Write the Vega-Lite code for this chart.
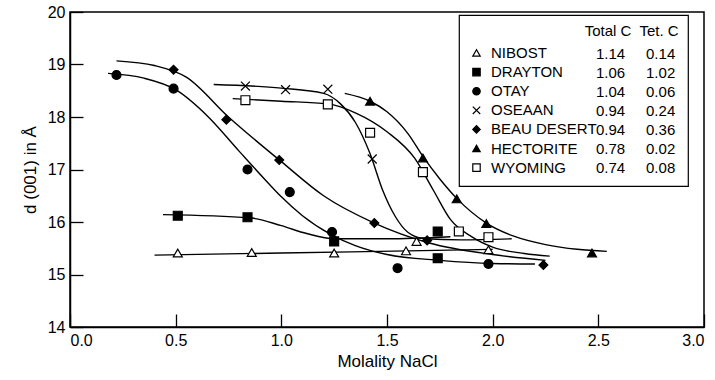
{
  "$schema": "https://vega.github.io/schema/vega-lite/v6.json",
  "autosize": {"type": "none"},
  "padding": {"left": 70, "top": 12, "right": 11, "bottom": 53},
  "width": 634,
  "height": 315,
  "background": "white",
  "config": {
    "font": "Liberation Sans, Arial, sans-serif",
    "view": {"stroke": "black", "strokeWidth": 1.5},
    "axis": {
      "grid": false,
      "domainColor": "black",
      "domainWidth": 1.5,
      "tickColor": "black",
      "tickWidth": 1.3,
      "tickSize": -13,
      "labelColor": "black",
      "labelFontSize": 16,
      "labelPadding": 18,
      "titleColor": "black",
      "titleFontSize": 17,
      "titleFontWeight": "normal"
    },
    "legend": {
      "labelColor": "black",
      "titleColor": "black",
      "strokeWidth": 1.2,
      "symbolStrokeWidth": 1.2
    }
  },
  "datasets": {
    "points": [
      {"series": "NIBOST", "m": 0.51, "d": 15.41},
      {"series": "NIBOST", "m": 0.86, "d": 15.42},
      {"series": "NIBOST", "m": 1.25, "d": 15.41},
      {"series": "NIBOST", "m": 1.59, "d": 15.45},
      {"series": "NIBOST", "m": 1.64, "d": 15.63},
      {"series": "NIBOST", "m": 1.98, "d": 15.47},
      {"series": "DRAYTON", "m": 0.51, "d": 16.12},
      {"series": "DRAYTON", "m": 0.84, "d": 16.09},
      {"series": "DRAYTON", "m": 1.25, "d": 15.63},
      {"series": "DRAYTON", "m": 1.74, "d": 15.82},
      {"series": "DRAYTON", "m": 1.74, "d": 15.31},
      {"series": "OTAY", "m": 0.22, "d": 18.8},
      {"series": "OTAY", "m": 0.49, "d": 18.54},
      {"series": "OTAY", "m": 0.84, "d": 17.0},
      {"series": "OTAY", "m": 1.04, "d": 16.57},
      {"series": "OTAY", "m": 1.24, "d": 15.81},
      {"series": "OTAY", "m": 1.55, "d": 15.12},
      {"series": "OTAY", "m": 1.98, "d": 15.2},
      {"series": "OSEAAN", "m": 0.83, "d": 18.59},
      {"series": "OSEAAN", "m": 1.02, "d": 18.52},
      {"series": "OSEAAN", "m": 1.22, "d": 18.53},
      {"series": "OSEAAN", "m": 1.43, "d": 17.2},
      {"series": "OSEAAN", "m": 1.98, "d": 15.71},
      {"series": "BEAU DESERT", "m": 0.49, "d": 18.9},
      {"series": "BEAU DESERT", "m": 0.74, "d": 17.95},
      {"series": "BEAU DESERT", "m": 0.99, "d": 17.18},
      {"series": "BEAU DESERT", "m": 1.44, "d": 15.98},
      {"series": "BEAU DESERT", "m": 1.69, "d": 15.65},
      {"series": "BEAU DESERT", "m": 2.24, "d": 15.18},
      {"series": "HECTORITE", "m": 1.42, "d": 18.3},
      {"series": "HECTORITE", "m": 1.67, "d": 17.22},
      {"series": "HECTORITE", "m": 1.83, "d": 16.44},
      {"series": "HECTORITE", "m": 1.97, "d": 15.97},
      {"series": "HECTORITE", "m": 2.47, "d": 15.41},
      {"series": "WYOMING", "m": 0.83, "d": 18.32},
      {"series": "WYOMING", "m": 1.22, "d": 18.24},
      {"series": "WYOMING", "m": 1.42, "d": 17.7},
      {"series": "WYOMING", "m": 1.67, "d": 16.95},
      {"series": "WYOMING", "m": 1.84, "d": 15.82},
      {"series": "WYOMING", "m": 1.98, "d": 15.71}
    ],
    "curves": [
      {"series": "NIBOST", "m": 0.40, "d": 15.37},
      {"series": "NIBOST", "m": 1.0, "d": 15.41},
      {"series": "NIBOST", "m": 1.6, "d": 15.45},
      {"series": "NIBOST", "m": 2.0, "d": 15.48},
      {"series": "DRAYTON", "m": 0.44, "d": 16.14},
      {"series": "DRAYTON", "m": 0.85, "d": 16.08},
      {"series": "DRAYTON", "m": 1.0, "d": 15.93},
      {"series": "DRAYTON", "m": 1.12, "d": 15.78},
      {"series": "DRAYTON", "m": 1.25, "d": 15.68},
      {"series": "DRAYTON", "m": 1.5, "d": 15.68},
      {"series": "DRAYTON", "m": 1.8, "d": 15.72},
      {"series": "OTAY", "m": 0.18, "d": 18.83},
      {"series": "OTAY", "m": 0.35, "d": 18.74},
      {"series": "OTAY", "m": 0.5, "d": 18.52},
      {"series": "OTAY", "m": 0.65, "d": 18.02},
      {"series": "OTAY", "m": 0.8, "d": 17.35},
      {"series": "OTAY", "m": 0.92, "d": 16.82},
      {"series": "OTAY", "m": 1.0, "d": 16.48},
      {"series": "OTAY", "m": 1.1, "d": 16.12},
      {"series": "OTAY", "m": 1.24, "d": 15.75},
      {"series": "OTAY", "m": 1.35, "d": 15.55},
      {"series": "OTAY", "m": 1.5, "d": 15.38},
      {"series": "OTAY", "m": 1.75, "d": 15.27},
      {"series": "OTAY", "m": 2.0, "d": 15.21},
      {"series": "OTAY", "m": 2.2, "d": 15.2},
      {"series": "OSEAAN", "m": 0.68, "d": 18.62},
      {"series": "OSEAAN", "m": 1.0, "d": 18.55},
      {"series": "OSEAAN", "m": 1.2, "d": 18.45},
      {"series": "OSEAAN", "m": 1.28, "d": 18.25},
      {"series": "OSEAAN", "m": 1.35, "d": 17.9},
      {"series": "OSEAAN", "m": 1.42, "d": 17.3},
      {"series": "OSEAAN", "m": 1.48, "d": 16.6},
      {"series": "OSEAAN", "m": 1.54, "d": 16.1},
      {"series": "OSEAAN", "m": 1.6, "d": 15.8},
      {"series": "OSEAAN", "m": 1.68, "d": 15.68},
      {"series": "OSEAAN", "m": 1.85, "d": 15.66},
      {"series": "OSEAAN", "m": 2.09, "d": 15.68},
      {"series": "BEAU DESERT", "m": 0.22, "d": 19.07},
      {"series": "BEAU DESERT", "m": 0.4, "d": 18.98},
      {"series": "BEAU DESERT", "m": 0.55, "d": 18.76},
      {"series": "BEAU DESERT", "m": 0.75, "d": 18.0},
      {"series": "BEAU DESERT", "m": 1.0, "d": 17.15},
      {"series": "BEAU DESERT", "m": 1.2, "d": 16.5},
      {"series": "BEAU DESERT", "m": 1.44, "d": 15.98},
      {"series": "BEAU DESERT", "m": 1.7, "d": 15.6},
      {"series": "BEAU DESERT", "m": 2.0, "d": 15.38},
      {"series": "BEAU DESERT", "m": 2.25, "d": 15.27},
      {"series": "HECTORITE", "m": 1.3, "d": 18.45},
      {"series": "HECTORITE", "m": 1.42, "d": 18.3},
      {"series": "HECTORITE", "m": 1.5, "d": 18.1},
      {"series": "HECTORITE", "m": 1.6, "d": 17.68},
      {"series": "HECTORITE", "m": 1.67, "d": 17.25},
      {"series": "HECTORITE", "m": 1.75, "d": 16.82},
      {"series": "HECTORITE", "m": 1.83, "d": 16.45},
      {"series": "HECTORITE", "m": 1.97, "d": 15.98},
      {"series": "HECTORITE", "m": 2.1, "d": 15.73},
      {"series": "HECTORITE", "m": 2.25, "d": 15.57},
      {"series": "HECTORITE", "m": 2.4, "d": 15.48},
      {"series": "HECTORITE", "m": 2.54, "d": 15.44},
      {"series": "WYOMING", "m": 0.77, "d": 18.35},
      {"series": "WYOMING", "m": 1.0, "d": 18.3},
      {"series": "WYOMING", "m": 1.22, "d": 18.25},
      {"series": "WYOMING", "m": 1.35, "d": 18.08},
      {"series": "WYOMING", "m": 1.5, "d": 17.72},
      {"series": "WYOMING", "m": 1.63, "d": 17.22},
      {"series": "WYOMING", "m": 1.72, "d": 16.6},
      {"series": "WYOMING", "m": 1.8, "d": 16.05},
      {"series": "WYOMING", "m": 1.9, "d": 15.72},
      {"series": "WYOMING", "m": 2.0, "d": 15.52},
      {"series": "WYOMING", "m": 2.15, "d": 15.4},
      {"series": "WYOMING", "m": 2.27, "d": 15.35}
    ],
    "table": [
      {"series": "NIBOST", "totalC": 1.14, "tetC": 0.14},
      {"series": "DRAYTON", "totalC": 1.06, "tetC": 1.02},
      {"series": "OTAY", "totalC": 1.04, "tetC": 0.06},
      {"series": "OSEAAN", "totalC": 0.94, "tetC": 0.24},
      {"series": "BEAU DESERT", "totalC": 0.94, "tetC": 0.36},
      {"series": "HECTORITE", "totalC": 0.78, "tetC": 0.02},
      {"series": "WYOMING", "totalC": 0.74, "tetC": 0.08}
    ]
  },
  "layer": [
    {
      "data": {"name": "curves"},
      "mark": {"type": "line", "color": "black", "strokeWidth": 1.4, "interpolate": "monotone"},
      "encoding": {
        "x": {"field": "m", "type": "quantitative", "scale": {"domain": [0, 3]},
              "axis": {"title": "Molality NaCl", "titlePadding": 5, "values": [0, 0.5, 1, 1.5, 2, 2.5, 3], "format": ".1f"}},
        "y": {"field": "d", "type": "quantitative", "scale": {"domain": [14, 20]},
              "axis": {"title": "d (001) in Å", "titlePadding": 8, "values": [14, 15, 16, 17, 18, 19, 20]}},
        "detail": {"field": "series"}
      }
    },
    {
      "data": {"name": "points"},
      "mark": {"type": "point", "filled": false, "strokeWidth": 1.2, "opacity": 1, "size": 80},
      "encoding": {
        "x": {"field": "m", "type": "quantitative"},
        "y": {"field": "d", "type": "quantitative"},
        "shape": {
          "field": "series", "type": "nominal",
          "scale": {
            "domain": ["NIBOST", "DRAYTON", "OTAY", "OSEAAN", "BEAU DESERT", "HECTORITE", "WYOMING"],
            "range": ["triangle-up", "square", "circle", "M-1,-1L1,1M-1,1L1,-1", "diamond", "triangle-up", "square"]
          },
          "legend": {
            "orient": "none", "legendX": 389, "legendY": 3,
            "title": "\u200b\u00a0\u00a0\u00a0\u00a0\u00a0\u00a0\u00a0\u00a0\u00a0\u00a0\u00a0\u00a0\u00a0\u00a0\u00a0\u00a0\u00a0\u00a0\u00a0\u00a0\u00a0\u00a0\u00a0\u00a0\u00a0\u00a0\u00a0\u00a0Total C\u00a0 Tet. C",
            "titleFontSize": 15, "titleFontWeight": "normal", "titlePadding": 5.5, "titleLimit": 500,
            "labelFontSize": 15, "labelLimit": 300, "labelOffset": 7,
            "clipHeight": 17, "rowPadding": 2.1,
            "padding": 9, "strokeColor": "black",
            "symbolSize": 55, "symbolStrokeWidth": 1.2, "symbolOffset": 1
          }
        },
        "fill": {
          "field": "series", "type": "nominal",
          "scale": {
            "domain": ["NIBOST", "DRAYTON", "OTAY", "OSEAAN", "BEAU DESERT", "HECTORITE", "WYOMING"],
            "range": ["white", "black", "black", "white", "black", "black", "white"]
          },
          "legend": {
            "orient": "none", "legendX": 389, "legendY": 3
          }
        },
        "stroke": {
          "field": "series", "type": "nominal",
          "scale": {
            "domain": ["NIBOST", "DRAYTON", "OTAY", "OSEAAN", "BEAU DESERT", "HECTORITE", "WYOMING"],
            "range": ["black", "black", "black", "black", "black", "black", "black"]
          },
          "legend": {
            "orient": "none", "legendX": 389, "legendY": 3
          }
        }
      }
    },
    {
      "data": {"name": "table"},
      "mark": {"type": "point", "opacity": 0},
      "encoding": {
        "strokeDash": {
          "field": "series", "type": "nominal",
          "sort": ["NIBOST", "DRAYTON", "OTAY", "OSEAAN", "BEAU DESERT", "HECTORITE", "WYOMING"],
          "scale": {"range": [[1, 0]]},
          "legend": {
            "orient": "none", "legendX": 511, "legendY": 33,
            "title": null, "padding": 0,
            "labelFontSize": 15, "labelLimit": 300, "labelOffset": 0,
            "clipHeight": 17, "rowPadding": 2.1,
            "symbolSize": 0, "symbolStrokeWidth": 0, "symbolOpacity": 0,
            "labelExpr": "format(pluck(data('table'),'totalC')[indexof(pluck(data('table'),'series'),datum.value)],'.2f') + '\u00a0\u00a0\u00a0\u00a0\u00a0' + format(pluck(data('table'),'tetC')[indexof(pluck(data('table'),'series'),datum.value)],'.2f')"
          }
        }
      }
    }
  ]
}
